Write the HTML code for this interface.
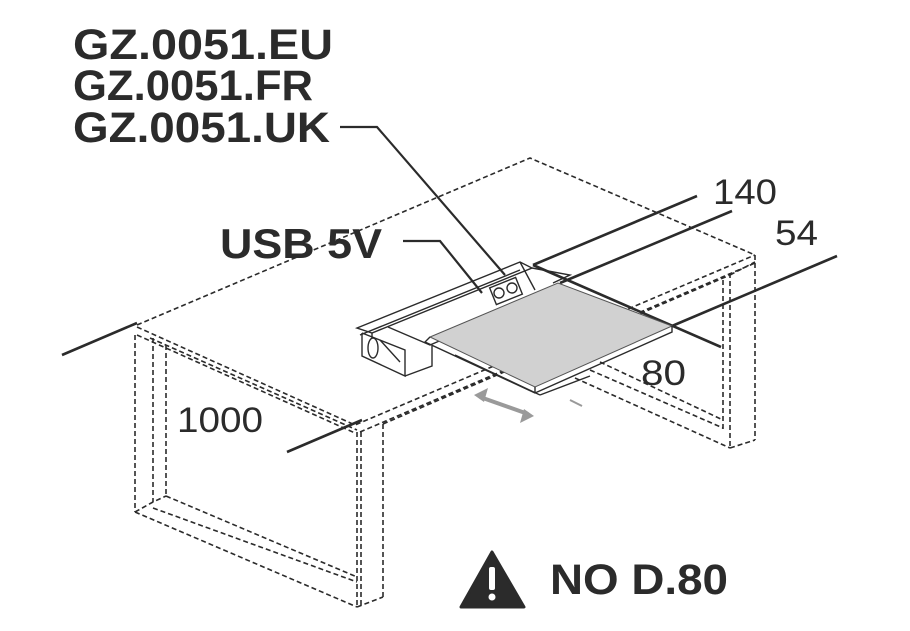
<!DOCTYPE html>
<html><head><meta charset="utf-8"><style>
html,body{margin:0;padding:0;background:#fff;}
svg{display:block;}
text{font-family:"Liberation Sans",Arial,sans-serif;fill:#2b2b2b;}
.b{font-weight:bold;}
.d{fill:none;stroke:#2b2b2b;stroke-width:1.6;stroke-dasharray:5 3;}
.s{fill:none;stroke:#2b2b2b;stroke-width:2.6;}
.t{fill:none;stroke:#2b2b2b;stroke-width:1.4;}
</style></head><body>
<svg width="910" height="631" viewBox="0 0 910 631" xmlns="http://www.w3.org/2000/svg">
<!-- table top -->
<path class="d" d="M137 325 L530 158 L755 255"/>
<path class="d" d="M137 327 L355 425 L755 255"/>
<path class="d" d="M137 335 L355 433 M150 338 L357 430"/>
<path class="d" d="M360 432 L755 263 M383 424 L730 275 M730 275 L755 262"/>
<!-- left leg -->
<path class="d" d="M135 335 L135 512 M153 338 L153 502 M166 345 L166 496"/>
<path class="d" d="M135 512 L357 607 M135 512 L153 502 L166 496 M153 508 L357 582 M166 496 L357 577"/>
<!-- front leg -->
<path class="d" d="M357 432 L357 607 M361 432 L361 605 M383 424 L383 597 M357 607 L383 597"/>
<!-- right leg -->
<path class="d" d="M755 255 L755 440 M730 273 L730 448 M723 280 L723 430 M730 448 L755 440"/>
<path class="d" d="M590 370 L723 428 M575 378 L730 448 M600 362 L723 420"/>
<!-- dimension/extension lines -->
<path class="s" d="M62 355 L137 323 M287 452 L362 420"/>
<path class="s" d="M533 265 L697 196 M560 283 L732 211 M533 265 L721 347 M672 326 L837 256"/>
<!-- leaders -->
<path class="t" style="stroke-width:2.2" d="M340 127 L377 127 L505 275"/>
<path class="t" style="stroke-width:2.2" d="M403 241 L440 241 L482 293"/>
<!-- device housing -->
<path class="t" d="M357 328 L520 262 L532 268 L372 333 Z"/>
<path class="t" d="M372 333 L372 338 M360 335 L520 270"/>
<path class="t" d="M362 333 L362 356 L405 376 L405 356 M362 333 L405 350 L405 356 M405 376 L432 366 L432 346"/>
<ellipse class="t" cx="373" cy="348" rx="5" ry="10"/>
<path class="t" d="M380 340 L400 362"/>
<path class="t" d="M532 268 L570 275 L553 283 M520 262 L535 290"/>
<rect x="492" y="282" width="28" height="18" fill="#fff" stroke="#2b2b2b" stroke-width="1.4" transform="rotate(-22 506 291)"/>
<circle cx="499" cy="293" r="5" class="t"/><circle cx="512" cy="288" r="5" class="t"/>
<path class="t" d="M388 327 L430 345 L530 302"/>
<!-- shelf -->
<polygon points="430,337 558,283 672,326 535,387" fill="#d1d1d1" stroke="#555" stroke-width="1"/>
<path class="t" d="M430 337 L425 342 L535 393 L672 332 L672 326 M535 387 L535 393"/>
<path class="t" d="M455 355 L540 395 M540 395 L590 376"/>
<path d="M570 400 L582 406" stroke="#999" stroke-width="2"/>
<!-- gray arrow -->
<path d="M480 397 L528 414" stroke="#9a9a9a" stroke-width="4"/>
<path d="M474 395 L488 388 L484 402 Z M534 416 L520 423 L524 409 Z" fill="#9a9a9a"/>
<!-- text -->
<text class="b" x="73" y="59" font-size="43" textLength="260" lengthAdjust="spacingAndGlyphs">GZ.0051.EU</text>
<text class="b" x="73" y="100" font-size="43" textLength="240" lengthAdjust="spacingAndGlyphs">GZ.0051.FR</text>
<text class="b" x="73" y="142" font-size="43" textLength="257" lengthAdjust="spacingAndGlyphs">GZ.0051.UK</text>
<text class="b" x="220" y="258" font-size="42" textLength="162" lengthAdjust="spacingAndGlyphs">USB 5V</text>
<text x="713" y="204" font-size="35" textLength="64" lengthAdjust="spacingAndGlyphs">140</text>
<text x="775" y="245" font-size="35" textLength="43" lengthAdjust="spacingAndGlyphs">54</text>
<text x="641" y="385" font-size="35" textLength="45" lengthAdjust="spacingAndGlyphs">80</text>
<text x="177" y="432" font-size="35" textLength="86" lengthAdjust="spacingAndGlyphs">1000</text>
<!-- warning -->
<path d="M492 552 L524 607 L461 607 Z" fill="#2b2b2b" stroke="#2b2b2b" stroke-width="3" stroke-linejoin="round"/>
<rect x="489" y="567" width="6" height="23" rx="2" fill="#fff"/>
<circle cx="492" cy="597" r="3.5" fill="#fff"/>
<text class="b" x="550" y="594" font-size="43" textLength="178" lengthAdjust="spacingAndGlyphs">NO D.80</text>
</svg>
</body></html>
